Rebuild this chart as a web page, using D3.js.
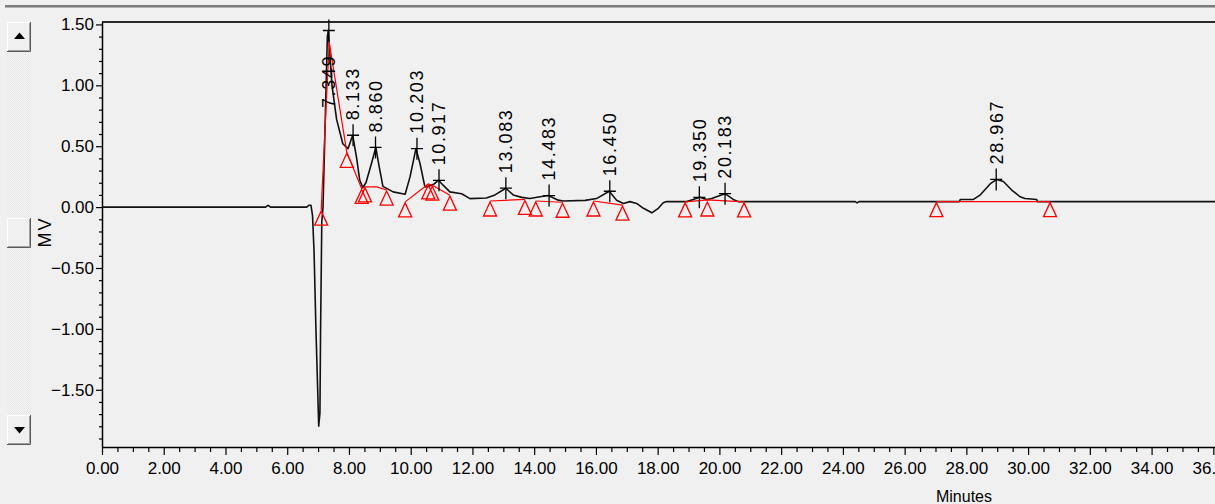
<!DOCTYPE html>
<html>
<head>
<meta charset="utf-8">
<script src="https://cdn.jsdelivr.net/npm/d3@7"></script>
<style>
html, body { margin: 0; padding: 0; background: #f0f0f0; overflow: hidden; }
svg { display: block; }
</style>
</head>
<body>
<div id="chart"></div>
<script>
// detector trace (minutes, mV)
var traceTime = [0, 5.30, 5.36, 5.40, 5.46, 6.63, 6.70, 6.77, 6.82, 6.87, 6.93, 6.98, 7.02, 7.06, 7.08, 7.12, 7.16,
	7.22, 7.30, 7.33, 7.37, 7.45, 7.60, 7.80, 7.97, 8.12, 8.25, 8.35, 8.45, 8.55, 8.72, 8.87, 8.98, 9.10, 9.43, 9.82,
	9.98, 10.17, 10.30, 10.46, 10.57, 10.76, 10.90, 11.05, 11.27, 11.65, 11.92, 12.45, 12.73, 13.08, 13.32, 13.60,
	13.86, 14.19, 14.46, 14.78, 14.94, 15.65, 16.02, 16.43, 16.67, 16.89, 17.10, 17.32, 17.54, 17.81, 18.02, 18.18,
	18.29, 18.94, 19.15, 19.37, 19.59, 19.75, 20.18, 20.45, 20.61, 24.40, 24.46, 24.52, 27.78, 27.80, 28.23, 28.44,
	28.77, 28.98, 29.20, 29.47, 29.74, 29.90, 30.28, 30.30, 37.0];
var traceMV = [0, 0, 0.012, 0.012, 0, 0, 0.015, 0.015, -0.07, -0.37, -1.0, -1.44, -1.80, -1.69, -1.02, -0.12, 0.0,
	0.6, 1.40, 1.45, 1.30, 1.0, 0.72, 0.52, 0.48, 0.59, 0.40, 0.22, 0.16, 0.20, 0.35, 0.49, 0.33, 0.17, 0.125, 0.105,
	0.25, 0.48, 0.36, 0.166, 0.17, 0.19, 0.22, 0.18, 0.125, 0.11, 0.07, 0.075, 0.10, 0.155, 0.10, 0.08,
	0.07, 0.085, 0.095, 0.057, 0.05, 0.055, 0.07, 0.13, 0.057, 0.03, 0.045, 0.03, -0.01, -0.047, -0.01, 0.035,
	0.045, 0.045, 0.063, 0.08, 0.063, 0.07, 0.11, 0.063, 0.045, 0.045, 0.035, 0.045, 0.045, 0.063, 0.063, 0.098,
	0.19, 0.227, 0.21, 0.14, 0.085, 0.07, 0.063, 0.045, 0.045];

// integration baseline (null = gap)
var baseTime = [7.10, 7.36, 7.93, 8.41, 8.52, 8.90, 9.22, null, 9.82, 10.57, 10.70, 11.27, null, 12.57, 13.70, null,
	14.05, 14.92, null, 15.92, 16.86, null, 18.89, 19.61, 20.80, null, 27.03, 30.71];
var baseMV = [-0.025, 1.355, 0.45, 0.153, 0.166, 0.166, 0.14, null, 0.043, 0.19, 0.18, 0.098, null, 0.05, 0.063, null,
	0.05, 0.04, null, 0.05, 0.016, null, 0.043, 0.06, 0.043, null, 0.045, 0.045];

// peak start / end markers
var markerTime = [7.10, 7.93, 8.41, 8.52, 9.22, 9.82, 10.57, 10.70, 11.27, 12.57, 13.70, 14.05, 14.92, 15.92, 16.86,
	18.89, 19.61, 20.80, 27.03, 30.71];
var markerMV = [-0.025, 0.45, 0.153, 0.166, 0.14, 0.043, 0.19, 0.18, 0.098, 0.05, 0.063, 0.05, 0.04, 0.05, 0.016,
	0.043, 0.05, 0.043, 0.045, 0.045];

// retention times and apex heights
var peakTime = [7.349, 8.133, 8.860, 10.203, 10.917, 13.083, 14.483, 16.450, 19.350, 20.183, 28.967];
var peakMV = [1.45, 0.59, 0.49, 0.48, 0.22, 0.155, 0.095, 0.13, 0.08, 0.11, 0.227];

var xTicks = [0, 2, 4, 6, 8, 10, 12, 14, 16, 18, 20, 22, 24, 26, 28, 30, 32, 34, 36];
var yTicks = [-1.5, -1.0, -0.5, 0, 0.5, 1.0, 1.5];

var W = 1215, H = 504;
var tickFont = "'Liberation Sans Narrow', 'Arial Narrow', sans-serif";

var svg = d3.select('#chart').append('svg')
	.attr('width', W)
	.attr('height', H);

svg.append('rect').attr('width', W).attr('height', H).attr('fill', '#f0f0f0');

// window frame line on top
svg.append('rect').attr('x', 5).attr('y', 5).attr('width', W).attr('height', 2).attr('fill', '#7c7c7c');
svg.append('rect').attr('x', 5).attr('y', 7).attr('width', W).attr('height', 1).attr('fill', '#b4b4b4');

// scrollbar on the left
var defs = svg.append('defs');
var pat = defs.append('pattern').attr('id', 'dots')
	.attr('width', 2).attr('height', 2).attr('patternUnits', 'userSpaceOnUse');
pat.append('rect').attr('width', 2).attr('height', 2).attr('fill', '#f5f5f5');
pat.append('rect').attr('width', 1).attr('height', 1).attr('fill', '#e7e7e7');
pat.append('rect').attr('x', 1).attr('y', 1).attr('width', 1).attr('height', 1).attr('fill', '#e7e7e7');

svg.append('rect').attr('x', 7).attr('y', 22).attr('width', 24).attr('height', 424).attr('fill', 'url(#dots)');

function button(y0, h) {
	var b = svg.append('g');
	b.append('rect').attr('x', 7).attr('y', y0).attr('width', 24).attr('height', h).attr('fill', '#f0f0f0');
	b.append('path').attr('d', 'M7.5,' + (y0 + h - 1) + 'V' + (y0 + 0.5) + 'H30')
		.attr('fill', 'none').attr('stroke', '#ffffff');
	b.append('path').attr('d', 'M8,' + (y0 + h - 1.5) + 'H29.5V' + (y0 + 1))
		.attr('fill', 'none').attr('stroke', '#a0a0a0');
	b.append('path').attr('d', 'M7,' + (y0 + h - 0.5) + 'H30.5V' + y0)
		.attr('fill', 'none').attr('stroke', '#5a5a5a');
	return b;
}
button(22, 30).append('path').attr('d', 'M14,39L25,39L19.5,32.5Z').attr('fill', '#000');
button(218, 30);
button(415, 30).append('path').attr('d', 'M14,427L25,427L19.5,433.5Z').attr('fill', '#000');

// scales
var x = d3.scaleLinear().domain([0, 36.5]).range([102, 102 + 36.5 * 30.87]);
var y = d3.scaleLinear().domain([-1.97, 1.52]).range([447, 22]);

// plot top border
svg.append('line')
	.attr('x1', 102).attr('x2', W).attr('y1', 22).attr('y2', 22)
	.attr('stroke', '#2a2a2a').attr('stroke-width', 2);

// x axis: minor then major
var xMinor = d3.range(0, 36.5, 0.5).filter(function(d) { return d % 2 !== 0; });
svg.append('g')
	.attr('transform', 'translate(0,447)')
	.call(d3.axisBottom(x).tickValues(xMinor).tickSize(5).tickSizeOuter(0).tickFormat(''))
	.call(function(g) { g.select('.domain').remove(); });

var xAxis = svg.append('g')
	.attr('transform', 'translate(0,447)')
	.call(d3.axisBottom(x).tickValues(xTicks).tickSize(8).tickSizeOuter(0).tickPadding(7).tickFormat(d3.format('.2f')));
xAxis.select('.domain').attr('stroke-width', 1.5);

// y axis
var yMinor = d3.range(-19, 16).map(function(d) { return d / 10; })
	.filter(function(d) { return Math.abs(d * 10) % 5 !== 0; });
svg.append('g')
	.attr('transform', 'translate(102,0)')
	.call(d3.axisLeft(y).tickValues(yMinor).tickSize(3).tickSizeOuter(0).tickFormat(''))
	.call(function(g) { g.select('.domain').remove(); });

var yAxis = svg.append('g')
	.attr('transform', 'translate(102,0)')
	.call(d3.axisLeft(y).tickValues(yTicks).tickSize(6).tickSizeOuter(0).tickPadding(2).tickFormat(d3.format('.2f')));
yAxis.select('.domain').attr('stroke-width', 1.5);

svg.selectAll('.tick line').attr('stroke', '#000').attr('stroke-width', 1.2);
svg.selectAll('.tick text')
	.style('font-family', tickFont)
	.style('font-size', '17px')
	.attr('fill', '#000');

// axis titles
svg.append('text')
	.attr('x', 964).attr('y', 502)
	.attr('text-anchor', 'middle')
	.style('font-family', tickFont)
	.style('font-size', '16px')
	.text('Minutes');

svg.append('text')
	.attr('transform', 'translate(51,232) rotate(-90)')
	.attr('text-anchor', 'middle')
	.style('font-family', tickFont)
	.style('font-size', '18px')
	.style('letter-spacing', '2px')
	.text('MV');

// detector trace
var idx = d3.range(traceTime.length);
var line = d3.line()
	.x(function(i) { return x(traceTime[i]); })
	.y(function(i) { return y(traceMV[i]); });

svg.append('path')
	.attr('d', line(idx))
	.attr('fill', 'none')
	.attr('stroke', '#111')
	.attr('stroke-width', 1.6)
	.attr('stroke-linejoin', 'round');

// baseline in red
var bIdx = d3.range(baseTime.length);
var baseLine = d3.line()
	.defined(function(i) { return baseTime[i] !== null; })
	.x(function(i) { return x(baseTime[i]); })
	.y(function(i) { return y(baseMV[i]); });

svg.append('path')
	.attr('d', baseLine(bIdx))
	.attr('fill', 'none')
	.attr('stroke', '#ff0000')
	.attr('stroke-width', 1.2);

// triangles
svg.selectAll('.marker')
	.data(d3.range(markerTime.length))
	.enter()
	.append('path')
	.attr('class', 'marker')
	.attr('d', function(i) {
		var px = x(markerTime[i]), py = y(markerMV[i]) + 1;
		return 'M' + px + ',' + py + 'L' + (px - 6.5) + ',' + (py + 14) + 'L' + (px + 6.5) + ',' + (py + 14) + 'Z';
	})
	.attr('fill', 'none')
	.attr('stroke', '#ff0000')
	.attr('stroke-width', 1.3);

// peak crosses and labels
var peaks = svg.selectAll('.peak')
	.data(d3.range(peakTime.length))
	.enter()
	.append('g')
	.attr('class', 'peak');

peaks.append('path')
	.attr('d', function(i) {
		var px = x(peakTime[i]), py = y(peakMV[i]);
		return 'M' + px + ',' + (py - 11) + 'V' + (py + 11) + 'M' + (px - 6) + ',' + py + 'H' + (px + 6);
	})
	.attr('stroke', '#000')
	.attr('stroke-width', 1.3);

peaks.append('text')
	.style('font-family', "'Liberation Sans', Arial, sans-serif")
	.style('font-size', '18px')
	.style('letter-spacing', '1.6px')
	.attr('fill', '#000')
	.text(function(i) { return peakTime[i].toFixed(3); })
	.attr('transform', function(i) {
		var len = this.getComputedTextLength();
		var bottom = Math.max(y(peakMV[i]) - 15, 55 + len);
		return 'translate(' + x(peakTime[i]) + ',' + bottom + ') rotate(-90)';
	})
	.attr('dy', '0.35em');
</script>
</body>
</html>
